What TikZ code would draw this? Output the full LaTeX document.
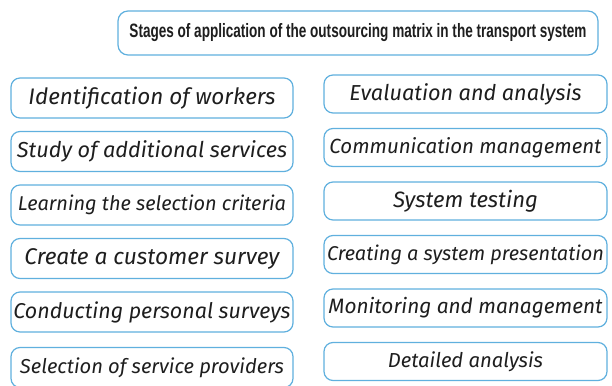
\documentclass[tikz,border=0pt]{standalone}
\usepackage{fontspec}
\usepackage{graphicx}
\usepackage{xcolor}
\usetikzlibrary{positioning}
\newfontfamily\stagefont{Fira Sans}
\newfontfamily\headfont[FakeStretch=0.7]{Liberation Sans}
\definecolor{boxblue}{RGB}{96,176,222}
\definecolor{inkgray}{RGB}{30,30,30}
\newcommand{\fitto}[2]{\resizebox{#1}{!}{#2}}
\tikzstyle{header} = [rectangle, rounded corners=10pt, minimum width=480pt, minimum height=44pt, text centered, draw=boxblue, fill=white, line width=1.2pt, inner sep=0pt, text=inkgray, font=\headfont\bfseries]
\tikzstyle{stage} = [rectangle, rounded corners=9pt, minimum width=282pt, minimum height=40pt, text centered, draw=boxblue, fill=white, line width=1.2pt, inner sep=0pt, text=inkgray, font=\stagefont\itshape]
\tikzstyle{stageright} = [stage, minimum width=283pt, minimum height=38pt]

\begin{document}
\begin{tikzpicture}[node distance=53.5pt]
        \useasboundingbox (0,0) rectangle (612pt,-385pt);

        \node (title) [header] at (358pt,-33pt) {\fitto{457pt}{Stages of application of the outsourcing matrix in the transport system}};

        \node (left1) [stage] at (152pt,-98pt) {\fitto{247pt}{Identification of workers}};
        \node (left2) [stage, below of=left1] {\fitto{270pt}{Study of additional services}};
        \node (left3) [stage, below of=left2] {\fitto{268pt}{Learning the selection criteria}};
        \node (left4) [stage, below of=left3] {\fitto{255pt}{Create a customer survey}};
        \node (left5) [stage, below of=left4] {\fitto{277pt}{Conducting personal surveys}};
        \node (left6) [stage, below of=left5, yshift=-2pt] {\fitto{264pt}{Selection of service providers}};

        \node (right1) [stageright] at (465.5pt,-94pt) {\fitto{232pt}{Evaluation and analysis}};
        \node (right2) [stageright, below of=right1] {\fitto{272pt}{Communication management}};
        \node (right3) [stageright, below of=right2] {\fitto{145pt}{System testing}};
        \node (right4) [stageright, below of=right3] {\fitto{277pt}{Creating a system presentation}};
        \node (right5) [stageright, below of=right4] {\fitto{274pt}{Monitoring and management}};
        \node (right6) [stageright, below of=right5] {\fitto{155pt}{Detailed analysis}};

    \end{tikzpicture}
\end{document}
